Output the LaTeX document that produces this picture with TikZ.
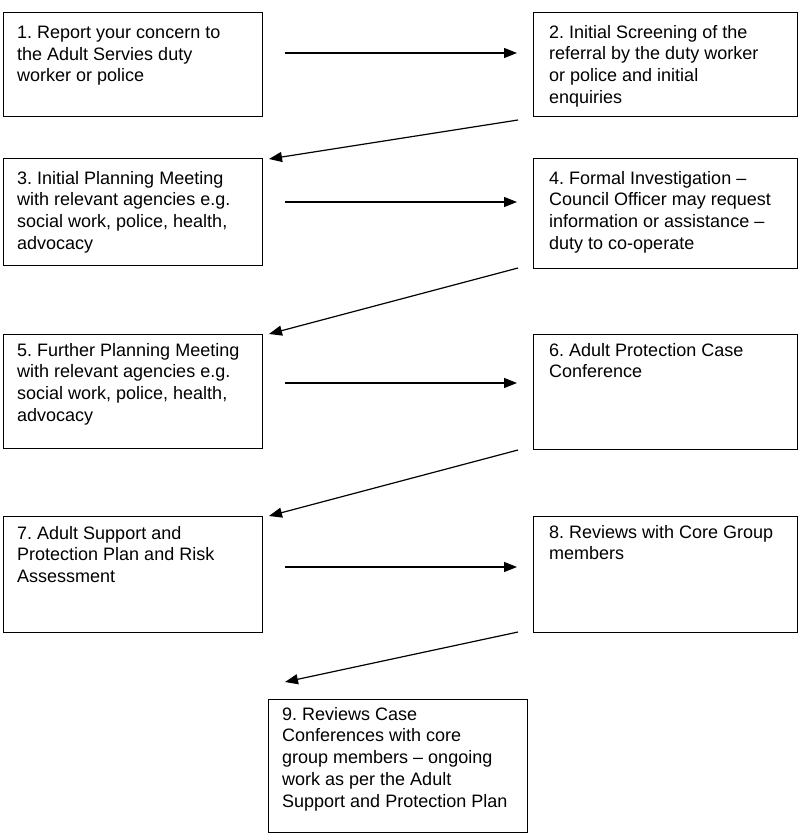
\documentclass[tikz,border=0pt]{standalone}
\usepackage{fontspec}
\setmainfont{Liberation Sans}
\usetikzlibrary{arrows.meta}
\begin{document}
\frenchspacing
\begin{tikzpicture}[x=1pt,y=-1pt,
  stagebox/.style={draw=black,line width=0.9pt,rectangle,inner sep=0pt,outer sep=0pt,anchor=north west},
  stagetext/.style={anchor=north west,inner sep=0pt,align=left,font=\fontsize{18}{21.7}\selectfont\frenchspacing},
  flow/.style={line width=1.2pt,-{Triangle[length=13pt,width=10pt]}}]
\useasboundingbox (0,0) rectangle (800,837);
\node[stagebox,minimum width=259,minimum height=104] (b1) at (3,12) {};
\node[stagebox,minimum width=264,minimum height=104] (b2) at (533,12) {};
\node[stagebox,minimum width=259,minimum height=107] (b3) at (3,158) {};
\node[stagebox,minimum width=264,minimum height=110] (b4) at (533,158) {};
\node[stagebox,minimum width=259,minimum height=114] (b5) at (3,334) {};
\node[stagebox,minimum width=264,minimum height=115] (b6) at (533,334) {};
\node[stagebox,minimum width=259,minimum height=116] (b7) at (3,516) {};
\node[stagebox,minimum width=264,minimum height=116] (b8) at (533,516) {};
\node[stagebox,minimum width=259,minimum height=133] (b9) at (268,699) {};
\node[stagetext] (t1) at ([shift={(14,14)}]b1.north west) {1. Report your concern to\\the Adult Servies duty\\worker or police};
\node[stagetext] (t2) at ([shift={(16,13)}]b2.north west) {2. Initial Screening of the\\referral by the duty worker\\or police and initial\\enquiries};
\node[stagetext] (t3) at ([shift={(14,13)}]b3.north west) {3. Initial Planning Meeting\\with relevant agencies e.g.\\social work, police, health,\\advocacy};
\node[stagetext] (t4) at ([shift={(16,13)}]b4.north west) {4. Formal Investigation --\\Council Officer may request\\information or assistance --\\duty to co-operate};
\node[stagetext] (t5) at ([shift={(14,9)}]b5.north west) {5. Further Planning Meeting\\with relevant agencies e.g.\\social work, police, health,\\advocacy};
\node[stagetext] (t6) at ([shift={(16,9)}]b6.north west) {6. Adult Protection Case\\Conference};
\node[stagetext] (t7) at ([shift={(14,10)}]b7.north west) {7. Adult Support and\\Protection Plan and Risk\\Assessment};
\node[stagetext] (t8) at ([shift={(16,9)}]b8.north west) {8. Reviews with Core Group\\members};
\node[stagetext] (t9) at ([shift={(14,8)}]b9.north west) {9. Reviews Case\\Conferences with core\\group members -- ongoing\\work as per the Adult\\Support and Protection Plan};
\draw[flow] ([shift={(23,41)}]b1.north east) -- ([shift={(-16,41)}]b2.north west);
\draw[flow] ([shift={(23,44)}]b3.north east) -- ([shift={(-16,44)}]b4.north west);
\draw[flow] ([shift={(23,49)}]b5.north east) -- ([shift={(-16,49)}]b6.north west);
\draw[flow] ([shift={(23,51)}]b7.north east) -- ([shift={(-16,51)}]b8.north west);
\draw[flow] ([shift={(-15,4)}]b2.south west) -- ([shift={(7,1)}]b3.north east);
\draw[flow] ([shift={(-15,0)}]b4.south west) -- ([shift={(7,0)}]b5.north east);
\draw[flow] ([shift={(-15,1)}]b6.south west) -- ([shift={(7,0)}]b7.north east);
\draw[flow] ([shift={(-15,0)}]b8.south west) -- ([shift={(17,-17)}]b9.north west);
\end{tikzpicture}
\end{document}
